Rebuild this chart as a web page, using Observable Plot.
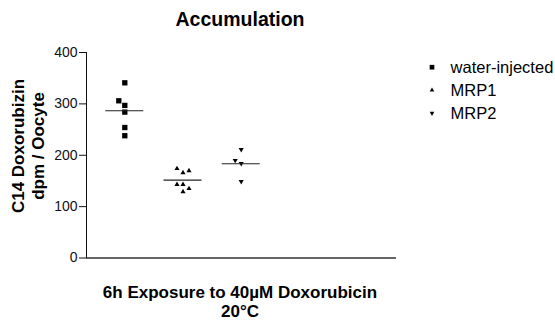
<!DOCTYPE html>
<html>
<head>
<meta charset="utf-8">
<script src="https://cdn.jsdelivr.net/npm/d3@7"></script>
<script src="https://cdn.jsdelivr.net/npm/@observablehq/plot@0.6"></script>
<style>
  body { margin: 0; background: #fff; }
  #wrap { position: relative; width: 555px; height: 320px; font-family: Arial, "Liberation Sans", sans-serif; color: #000; overflow: hidden; }
  #chart { position: absolute; left: 0; top: 0; }
  .lbl { position: absolute; font-weight: bold; white-space: nowrap; text-align: center; }
  #title { left: 0; width: 480px; top: 9.5px; font-size: 19.5px; line-height: 19.5px; }
  #xlabel { left: 0; width: 480px; top: 284px; font-size: 17px; line-height: 18.5px; }
  #ylabel { width: 200px; height: 40px; font-size: 17px; line-height: 20px; left: -71px; top: 125.5px; transform: rotate(-90deg); transform-origin: 100px 20px; }
  #legend { position: absolute; left: 427px; top: 55.6px; font-size: 16.5px; }
  .row { display: flex; align-items: flex-start; height: 23.25px; line-height: 23.25px; }
  .row svg { display: block; }
  .row span { margin-left: 13.6px; }
</style>
</head>
<body>
<div id="wrap">
  <div id="chart"></div>
  <div id="title" class="lbl"></div>
  <div id="ylabel" class="lbl"></div>
  <div id="xlabel" class="lbl"></div>
  <div id="legend"></div>
</div>
<script>
// ---- data ----
const groups = ["water-injected", "MRP1", "MRP2"];
const waterInjected = [238, 254, 284, 297, 306, 341];
const mrp1 = [129, 143, 143, 135, 166, 174, 170];
const mrp2 = [149, 184, 190, 211];
const yTicks = [0, 100, 200, 300, 400];
const titleText = "Accumulation";
const yLabelLines = ["C14 Doxorubizin", "dpm / Oocyte"];
const xLabelLines = ["6h Exposure to 40µM Doxorubicin", "20°C"];

// ---- styles / layout ----
const triangleDown = {
  draw(context, size) {
    const s3 = Math.sqrt(3);
    const y = Math.sqrt(size / (s3 * 3));
    context.moveTo(0, y * 2);
    context.lineTo(-s3 * y, -y);
    context.lineTo(s3 * y, -y);
    context.closePath();
  }
};
const symbols = ["square", "triangle", triangleDown];
const d3symbols = [d3.symbolSquare, d3.symbolTriangle, triangleDown];
const radii = [3, 1.9, 1.9];
const legendSizes = [22, 9.5, 9.5];

const W = 555, H = 320, ML = 86, MR = 159, MT = 52, MB = 62.5;
const xDomain = [0.342, 5.668];
const yDomain = [0, 400];
const pxPerX = (W - ML - MR) / (xDomain[1] - xDomain[0]);
const pxPerY = (H - MT - MB) / (yDomain[1] - yDomain[0]);
const step = 6 / pxPerX;        // horizontal spread of overlapping points
const minGap = 5.5;             // px, vertical collision distance
const halfMean = 19 / pxPerX;   // half width of mean line

const series = [waterInjected, mrp1, mrp2];

function swarm(values, gi) {
  const placed = [];
  return values.map(v => {
    for (const k of [0, -1, 1, -2, 2]) {
      if (!placed.some(p => p.k === k && Math.abs(p.v - v) * pxPerY < minGap)) {
        placed.push({k, v});
        return {group: groups[gi], x: gi + 1 + k * step, y: v};
      }
    }
  });
}

const points = series.map((vals, gi) => swarm(vals, gi));
const means = series.map((vals, gi) => ({gi, mean: d3.mean(vals)}));

const plot = Plot.plot({
  width: W,
  height: H,
  marginLeft: ML,
  marginRight: MR,
  marginTop: MT,
  marginBottom: MB,
  style: {fontFamily: 'Arial, "Liberation Sans", sans-serif', fontSize: "14px", color: "#111", background: "transparent"},
  x: {domain: xDomain, axis: null},
  y: {domain: yDomain, ticks: yTicks, tickSize: 7, tickPadding: 2, label: null, line: true},
  marks: [
    Plot.ruleY([0], {stroke: "#333", strokeWidth: 1.6}),
    ...points.map((pts, gi) => Plot.dot(pts, {x: "x", y: "y", symbol: symbols[gi], r: radii[gi], fill: "#000", stroke: "none"})),
    Plot.ruleY(means, {y: "mean", x1: d => d.gi + 1 - halfMean, x2: d => d.gi + 1 + halfMean, stroke: "#222", strokeWidth: 1.2})
  ]
});
document.getElementById("chart").appendChild(plot);

document.getElementById("title").textContent = titleText;
document.getElementById("ylabel").innerHTML = yLabelLines.join("<br>");
document.getElementById("xlabel").innerHTML = xLabelLines.join("<br>");

const legend = document.getElementById("legend");
groups.forEach((g, i) => {
  const row = document.createElement("div");
  row.className = "row";
  const svg = d3.create("svg").attr("width", 10).attr("height", 23);
  svg.append("path")
    .attr("transform", "translate(5,11.2)")
    .attr("d", d3.symbol(d3symbols[i], legendSizes[i])())
    .attr("fill", "#000");
  row.appendChild(svg.node());
  const span = document.createElement("span");
  span.textContent = g;
  row.appendChild(span);
  legend.appendChild(row);
});
</script>
</body>
</html>
